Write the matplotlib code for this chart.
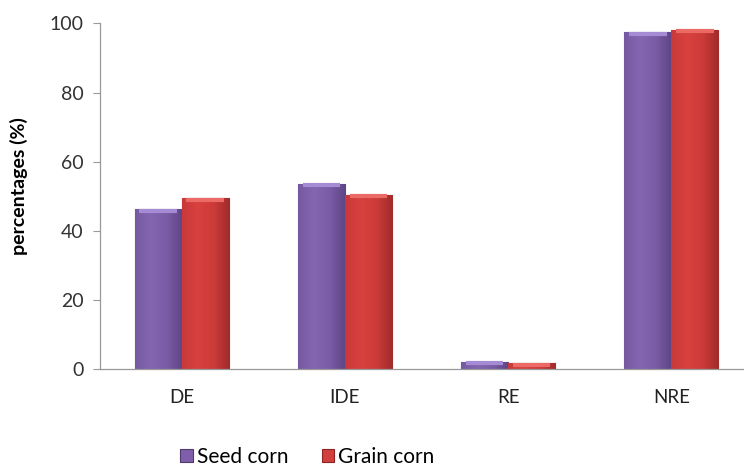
import matplotlib.pyplot as plt
import numpy as np
from matplotlib.colors import LinearSegmentedColormap

# values
categories = ['DE', 'IDE', 'RE', 'NRE']
seed_corn = [46.2, 53.6, 2.2, 97.4]
grain_corn = [49.4, 50.4, 1.7, 98.2]
series_names = ['Seed corn', 'Grain corn']

plt.rcParams['font.family'] = ['Lato', 'DejaVu Sans']

fig = plt.figure(figsize=(7.44, 4.66), dpi=100)
ax = fig.add_axes([0.1344, 0.2075, 0.8777, 0.7425])

x = np.arange(len(categories))
width = 0.288

# gradient stops (left -> right), bevel colour, edge colour
styles = [
    (['#7559a0', '#8466b0', '#7a5ca6', '#5e4585'], '#a58ad4', '#4f3a6e'),
    (['#c9393a', '#d8413e', '#cc3b39', '#a02c2b'], '#ec6a66', '#8c2422'),
]
legend_colors = ['#7f5fa9', '#d23f3c']

for i, (vals, name) in enumerate(zip([seed_corn, grain_corn], series_names)):
    stops, bevel, edge = styles[i]
    offs = x + (i - 0.5) * width
    bars = ax.bar(offs, vals, width, color=legend_colors[i], edgecolor=edge,
                  linewidth=0.8, label=name, zorder=2)
    cmap = LinearSegmentedColormap.from_list('g', stops)
    grad = np.tile(np.linspace(0, 1, 64), (2, 1))
    for b in bars:
        x0, y0 = b.get_x(), b.get_y()
        w, h = b.get_width(), b.get_height()
        im = ax.imshow(grad, extent=[x0, x0 + w, y0, y0 + h], cmap=cmap,
                       aspect='auto', zorder=2.5, interpolation='bicubic')
        im.set_clip_path(b)
        # light bevel at the top
        ax.plot([x0 + w * 0.1, x0 + w * 0.9], [y0 + h - 0.4, y0 + h - 0.4],
                color=bevel, lw=3, zorder=3, solid_capstyle='butt')

ax.set_xlim(-0.5, len(categories) - 0.5)
ax.set_ylim(0, 100)
ax.set_yticks(range(0, 101, 20))
ax.set_xticks(x)
ax.set_xticklabels(categories)
ax.tick_params(axis='x', length=0, pad=14, labelsize=13.5, colors='#222222')
ax.tick_params(axis='y', length=5, width=0.8, color='#999999',
               labelsize=14, labelcolor='#333333', pad=7)

for s in ['top', 'right']:
    ax.spines[s].set_visible(False)
for s in ['left', 'bottom']:
    ax.spines[s].set_color('#999999')
    ax.spines[s].set_linewidth(0.9)

ax.set_ylabel('percentages (%)', fontsize=14, fontweight='bold')
ax.yaxis.set_label_coords(-0.11, 0.53)

leg = fig.legend(loc='center', bbox_to_anchor=(0.413, 0.019), ncol=2,
                 frameon=False, fontsize=15, handlelength=0.6, handleheight=0.6,
                 handletextpad=0.2, columnspacing=1.6)

fig.savefig('out.png', dpi=100)
